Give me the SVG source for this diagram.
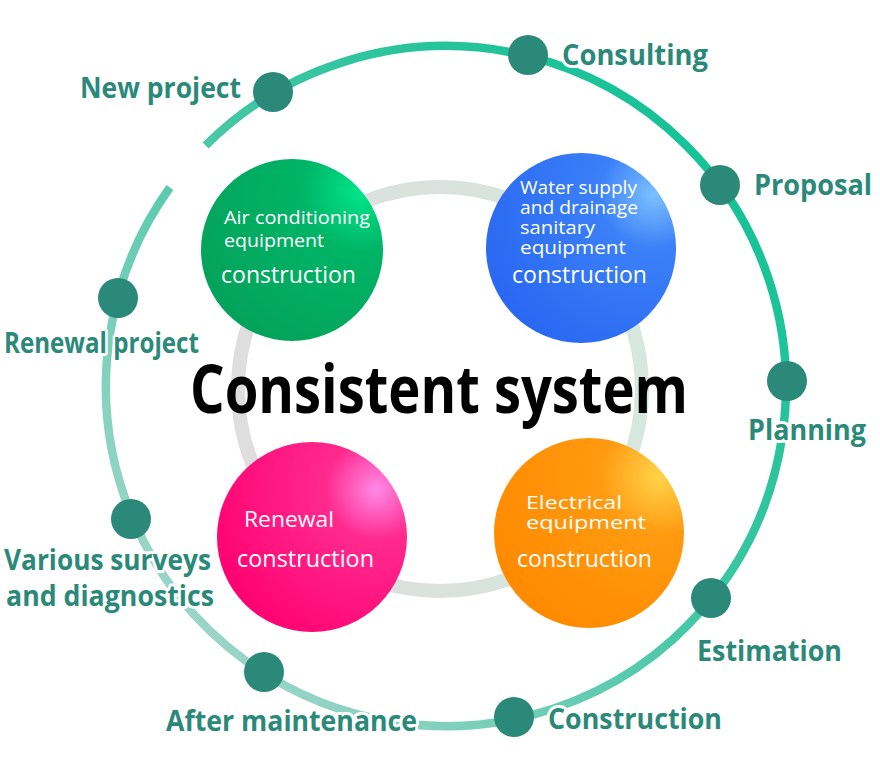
<svg xmlns="http://www.w3.org/2000/svg" width="880" height="780" viewBox="0 0 880 780">
<defs>
<linearGradient id="ringG" gradientUnits="userSpaceOnUse" x1="790" y1="80" x2="120" y2="700">
<stop offset="0" stop-color="#08c191"/>
<stop offset="0.45" stop-color="#3ec6a3"/>
<stop offset="1" stop-color="#b4d9d0"/>
</linearGradient>
<linearGradient id="innerG" gradientUnits="userSpaceOnUse" x1="238" y1="0" x2="642" y2="0">
<stop offset="0" stop-color="#dedede"/>
<stop offset="1" stop-color="#d5e7de"/>
</linearGradient>
<radialGradient id="gGreen" cx="0.88" cy="0.18" r="0.95">
<stop offset="0" stop-color="#00e58a"/>
<stop offset="0.35" stop-color="#00b466"/>
<stop offset="1" stop-color="#04a35c"/>
</radialGradient>
<radialGradient id="gBlue" cx="0.88" cy="0.22" r="0.95">
<stop offset="0" stop-color="#7cc0ff"/>
<stop offset="0.3" stop-color="#3b80f7"/>
<stop offset="1" stop-color="#2a68f2"/>
</radialGradient>
<radialGradient id="gPink" cx="0.84" cy="0.25" r="0.95">
<stop offset="0" stop-color="#ff8ae6"/>
<stop offset="0.28" stop-color="#ff2a8e"/>
<stop offset="1" stop-color="#ff0070"/>
</radialGradient>
<radialGradient id="gOrange" cx="0.87" cy="0.2" r="0.95">
<stop offset="0" stop-color="#ffd44a"/>
<stop offset="0.33" stop-color="#ff9a10"/>
<stop offset="1" stop-color="#ff8a00"/>
</radialGradient>
<style>
.dot{fill:#2b897a}
.lbl{font-family:"Open Sans","Noto Sans",sans-serif;font-weight:700;font-size:29px;fill:#2b897a;stroke:#ffffff;stroke-width:6px;stroke-linejoin:round;paint-order:stroke}
.in{font-family:"Open Sans","Noto Sans",sans-serif;font-size:18.5px;fill:#ffffff}
.inb{font-family:"Open Sans","Noto Sans",sans-serif;font-size:23px;fill:#ffffff}
.title{font-family:"Open Sans","Noto Sans",sans-serif;font-weight:700;font-size:66px;fill:#000000}
</style>
</defs>
<rect width="880" height="780" fill="#ffffff"/>
<g id="connectors">
<path d="M205.6,145.6 A340,340 0 1 1 169.9,187.6" fill="none" stroke="url(#ringG)" stroke-width="8.5"/>
<circle cx="440" cy="389" r="202" fill="none" stroke="url(#innerG)" stroke-width="14"/>
</g>
<g id="title"><text class="title" x="190" y="413" textLength="498" lengthAdjust="spacingAndGlyphs">Consistent system</text></g>
<g id="air-conditioning">
<circle cx="292" cy="250" r="91" fill="url(#gGreen)"/>
<text class="in" x="224" y="224" textLength="146" lengthAdjust="spacingAndGlyphs">Air conditioning</text>
<text class="in" x="224" y="247" textLength="100" lengthAdjust="spacingAndGlyphs">equipment</text>
<text class="inb" x="221" y="283" textLength="135" lengthAdjust="spacingAndGlyphs">construction</text>
</g>
<g id="water-supply">
<circle cx="581" cy="248" r="95" fill="url(#gBlue)"/>
<text class="in" x="520" y="194" textLength="117" lengthAdjust="spacingAndGlyphs">Water supply</text>
<text class="in" x="520" y="214" textLength="118" lengthAdjust="spacingAndGlyphs">and drainage</text>
<text class="in" x="520" y="234" textLength="75" lengthAdjust="spacingAndGlyphs">sanitary</text>
<text class="in" x="520" y="254" textLength="106" lengthAdjust="spacingAndGlyphs">equipment</text>
<text class="inb" x="512" y="283" textLength="135" lengthAdjust="spacingAndGlyphs">construction</text>
</g>
<g id="renewal">
<circle cx="312" cy="537" r="95" fill="url(#gPink)"/>
<text class="in" x="244" y="527" textLength="90" lengthAdjust="spacingAndGlyphs" style="font-size:21px">Renewal</text>
<text class="inb" x="237" y="567" textLength="137" lengthAdjust="spacingAndGlyphs">construction</text>
</g>
<g id="electrical">
<circle cx="589" cy="533" r="95" fill="url(#gOrange)"/>
<text class="in" x="526" y="509" textLength="96" lengthAdjust="spacingAndGlyphs">Electrical</text>
<text class="in" x="526" y="529" textLength="120" lengthAdjust="spacingAndGlyphs">equipment</text>
<text class="inb" x="517" y="567" textLength="135" lengthAdjust="spacingAndGlyphs">construction</text>
</g>
<g id="consulting"><circle class="dot" cx="528" cy="55" r="20"/><text class="lbl" x="562" y="65" textLength="146" lengthAdjust="spacingAndGlyphs">Consulting</text></g>
<g id="new-project"><circle class="dot" cx="273" cy="92" r="20"/><text class="lbl" x="80" y="98" textLength="161" lengthAdjust="spacingAndGlyphs">New project</text></g>
<g id="proposal"><circle class="dot" cx="720" cy="185" r="20"/><text class="lbl" x="754" y="195" textLength="118" lengthAdjust="spacingAndGlyphs">Proposal</text></g>
<g id="renewal-project"><circle class="dot" cx="118" cy="298" r="20"/><text class="lbl" x="4" y="353" textLength="195" lengthAdjust="spacingAndGlyphs">Renewal project</text></g>
<g id="planning"><circle class="dot" cx="787" cy="381" r="20"/><text class="lbl" x="748" y="440" textLength="118" lengthAdjust="spacingAndGlyphs">Planning</text></g>
<g id="surveys"><circle class="dot" cx="131" cy="519" r="20"/><text class="lbl" x="4" y="570" textLength="207" lengthAdjust="spacingAndGlyphs">Various surveys</text><text class="lbl" x="6" y="606" textLength="208" lengthAdjust="spacingAndGlyphs">and diagnostics</text></g>
<g id="estimation"><circle class="dot" cx="711" cy="598" r="20"/><text class="lbl" x="697" y="661" textLength="145" lengthAdjust="spacingAndGlyphs">Estimation</text></g>
<g id="after-maintenance"><circle class="dot" cx="264" cy="672" r="20"/><text class="lbl" x="166" y="731" textLength="251" lengthAdjust="spacingAndGlyphs">After maintenance</text></g>
<g id="construction"><circle class="dot" cx="514" cy="717" r="20"/><text class="lbl" x="548" y="729" textLength="174" lengthAdjust="spacingAndGlyphs">Construction</text></g>
</svg>
